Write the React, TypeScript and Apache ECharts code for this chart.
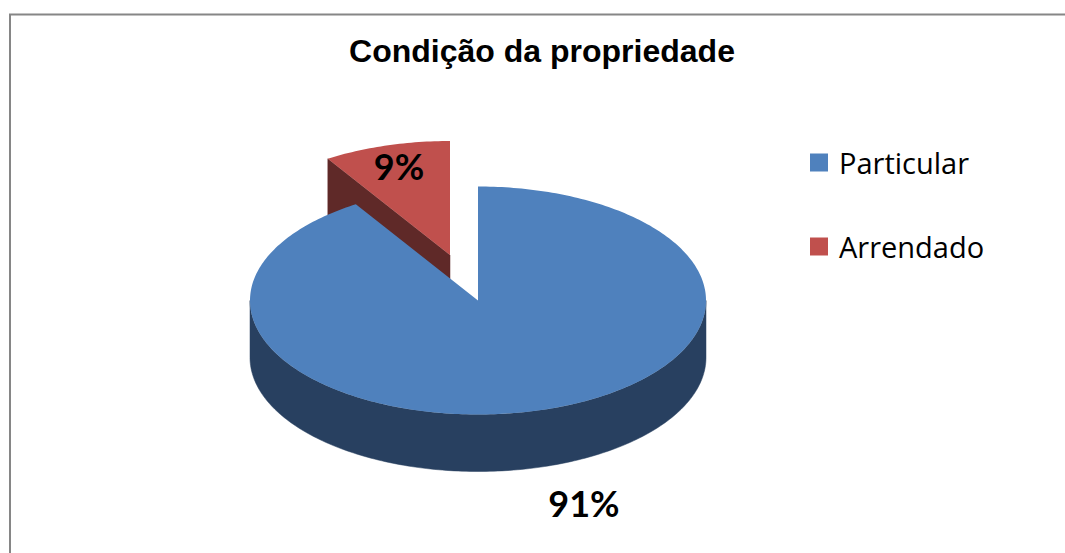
import React, { useEffect, useRef } from "react";
import * as echarts from "echarts";

const titleText = "Condição da propriedade";
const categories = ["Particular", "Arrendado"];
const values = [91, 9];
const topColors = ["#4f81bd", "#c0504d"];
const sideColors = ["#284060", "#5f2928"];

const CX = 478;
const CY = 300.5;
const RX = 228;
const RY = 114;
const DEPTH = 57;
const OFFSETS = [[0, 0], [-28, -45.5]];
const LABEL_POS = [[584, 503], [399, 166]];

const total = values.reduce((a, b) => a + b, 0);

function pt(cx: number, cy: number, deg: number) {
  const r = (deg * Math.PI) / 180;
  return [cx + RX * Math.sin(r), cy - RY * Math.cos(r)];
}

function arcPts(cx: number, cy: number, a0: number, a1: number) {
  const n = Math.max(2, Math.ceil(Math.abs(a1 - a0)));
  const out: number[][] = [];
  for (let i = 0; i <= n; i++) out.push(pt(cx, cy, a0 + ((a1 - a0) * i) / n));
  return out;
}

function sliceRender(index: number) {
  return (_params: any, api: any) => {
    const value = api.value(0);
    const before = values.slice(0, index).reduce((a, b) => a + b, 0);
    const a0 = (before / total) * 360;
    const a1 = a0 + (value / total) * 360;
    const cx = CX + OFFSETS[index][0];
    const cy = CY + OFFSETS[index][1];
    const children: any[] = [];
    const side = sideColors[index];
    const top = topColors[index];

    // outer rim: the part of the arc that faces the viewer (90..270 degrees)
    const r0 = Math.max(a0, 90);
    const r1 = Math.min(a1, 270);
    if (r1 > r0) {
      const upper = arcPts(cx, cy, r0, r1);
      const lower = arcPts(cx, cy + DEPTH, r1, r0);
      children.push({
        type: "polygon",
        shape: { points: upper.concat(lower) },
        style: { fill: side, stroke: side, lineWidth: 0.5 },
      });
    }
    // cut face that looks towards the viewer, on the slice's first edge
    if (index > 0) {
      const e = pt(cx, cy, a0);
      children.push({
        type: "polygon",
        shape: { points: [e, [cx, cy], [cx, cy + DEPTH], [e[0], e[1] + DEPTH]] },
        style: { fill: side, stroke: side, lineWidth: 0.5 },
      });
    }
    children.push({
      type: "polygon",
      shape: { points: [[cx, cy] as number[]].concat(arcPts(cx, cy, a0, a1)) },
      style: { fill: top },
    });
    children.push({
      type: "text",
      style: {
        text: `${Math.round((value / total) * 100)}%`,
        x: LABEL_POS[index][0],
        y: LABEL_POS[index][1],
        align: "center",
        verticalAlign: "middle",
        fill: "#000000",
        font: 'bold 36px Lato, "Open Sans", sans-serif',
      },
      z2: 10,
    });
    return { type: "group", children };
  };
}

export default function App() {
  const ref = useRef<HTMLDivElement>(null);
  useEffect(() => {
    if (!ref.current) return;
    const chart = echarts.init(ref.current, undefined, { renderer: "svg" });
    chart.setOption({
      animation: false,
      backgroundColor: "#ffffff",
      title: {
        text: titleText,
        left: 537,
        top: 30,
        textAlign: "center",
        textStyle: { fontFamily: '"Liberation Sans", Arial, sans-serif', fontWeight: "bold", fontSize: 32, color: "#000000" },
      },
      legend: {
        data: categories,
        orient: "vertical",
        left: 805,
        top: 143,
        icon: "rect",
        itemWidth: 18,
        itemHeight: 18,
        itemGap: 55,
        textStyle: { fontFamily: '"Open Sans", Lato, sans-serif', fontSize: 29, color: "#000000", padding: [0, 0, 0, 6] },
      },
      graphic: [
        {
          type: "rect",
          z: -1,
          shape: { x: 10, y: 14.5, width: 1200, height: 700 },
          style: { fill: "none", stroke: "#868686", lineWidth: 2 },
        },
      ],
      series: categories
        .map((name, i) => ({
          type: "custom",
          name,
          coordinateSystem: "none",
          itemStyle: { color: topColors[i] },
          data: [[values[i]]],
          z: 2 - i,
          renderItem: sliceRender(i),
        })),
    });
    return () => chart.dispose();
  }, []);
  return <div ref={ref} style={{ position: "absolute", left: 0, top: 0, width: 1065, height: 553 }} />;
}
